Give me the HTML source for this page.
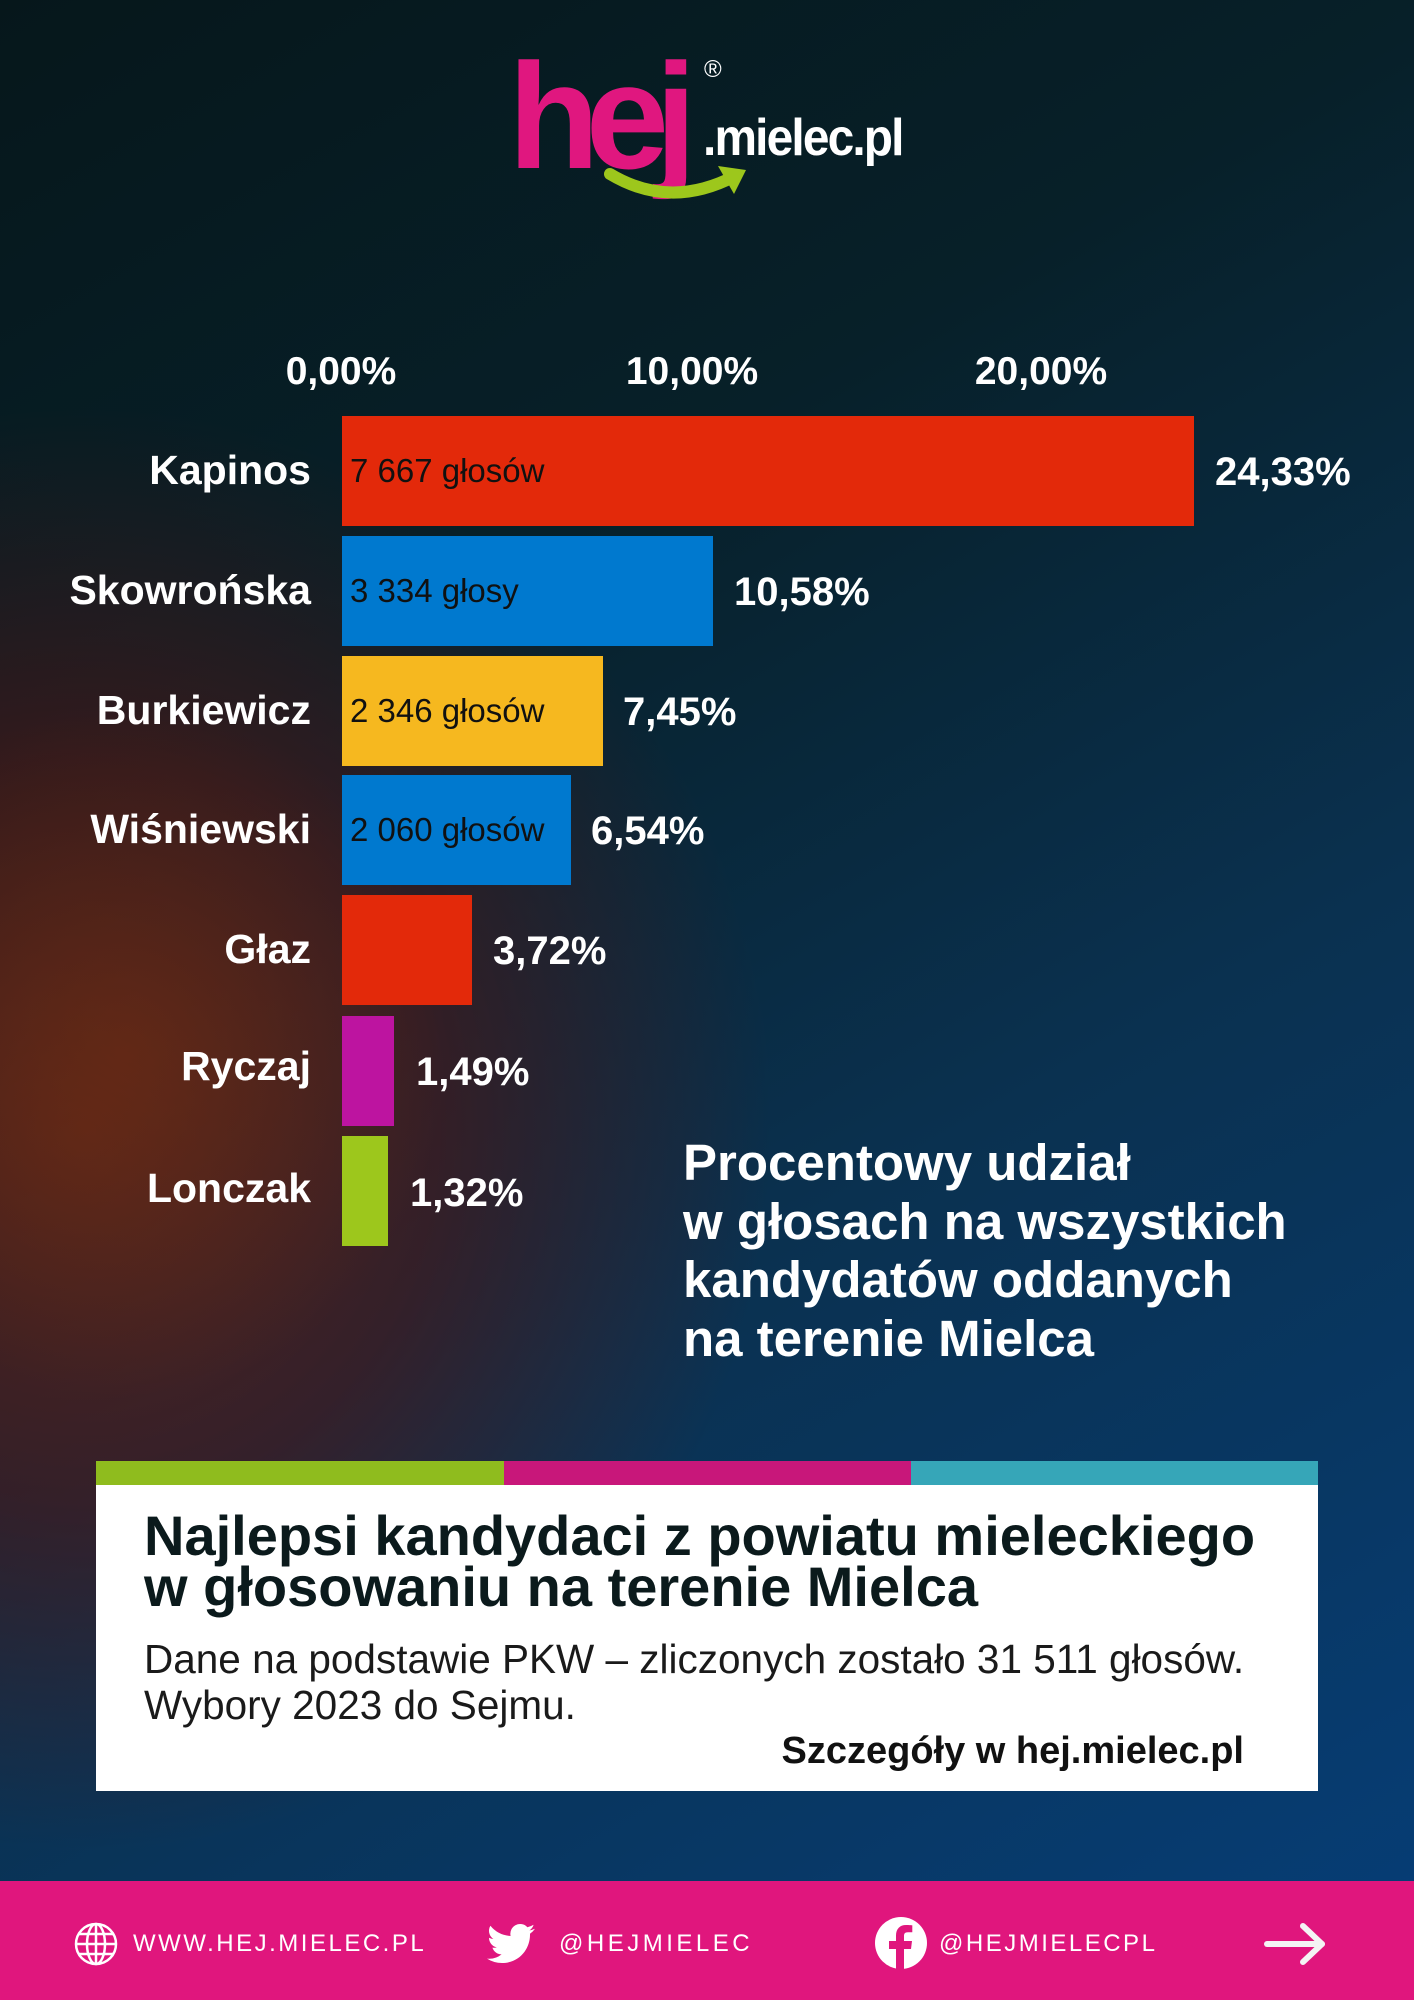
<!DOCTYPE html>
<html><head><meta charset="utf-8"><style>
*{margin:0;padding:0;box-sizing:border-box}
body{width:1414px;height:2000px;position:relative;overflow:hidden;font-family:"Liberation Sans",sans-serif;
background:linear-gradient(150deg,#06171b 0%,#072029 30%,#0a3150 60%,#063e78 100%);}
.bg1{position:absolute;left:-300px;top:380px;width:1100px;height:1500px;
background:radial-gradient(ellipse at 35% 50%,rgba(110,35,15,0.75) 0%,rgba(80,22,20,0.6) 35%,rgba(60,20,30,0.0) 68%);}
.bg2{position:absolute;left:-200px;top:700px;width:650px;height:700px;
background:radial-gradient(ellipse at 50% 50%,rgba(130,50,15,0.4) 0%,rgba(120,35,15,0) 70%);}
.a{position:absolute;white-space:nowrap}
.ax{top:350px;color:#fff;font-weight:bold;font-size:39px;transform:translateX(-50%)}
.nm{right:1103px;color:#fff;font-weight:bold;font-size:41px;line-height:46px}
.bar{position:absolute;left:342px;height:110px}
.in{position:absolute;left:8px;top:0;line-height:110px;font-size:33px;color:#111}
.vl{color:#fff;font-weight:bold;font-size:40px;line-height:46px}
.side{left:683px;top:1134px;color:#fff;font-weight:bold;font-size:51px;line-height:58.5px}
.box{position:absolute;left:96px;top:1485px;width:1222px;height:306px;background:#fff}
.ft{position:absolute;left:0;top:1881px;width:1414px;height:119px;background:#e0167d}
.fx{top:1930px;color:#fff;font-size:24px;letter-spacing:2.5px;line-height:28px}
</style></head><body>
<div class="bg1"></div><div class="bg2"></div>

<!-- logo -->
<div class="a" style="left:508px;top:36px;font-size:150px;font-weight:bold;color:#e0177f;letter-spacing:-14px;line-height:160px">hej</div>
<div class="a" style="left:703px;top:108px;font-size:52px;font-weight:bold;color:#fff;line-height:60px;letter-spacing:-2px;transform:scaleX(0.92);transform-origin:left">.mielec.pl</div>
<div class="a" style="left:704px;top:56px;font-size:24px;color:#fff">®</div>
<svg class="a" style="left:600px;top:160px" width="160" height="50" viewBox="0 0 160 50">
<path d="M10 14 Q70 50 135 16" stroke="#9dc71c" stroke-width="12" fill="none" stroke-linecap="round"/>
<path d="M118 6 L146 10 L134 34 Z" fill="#9dc71c"/>
</svg>

<!-- axis -->
<div class="a ax" style="left:341px">0,00%</div>
<div class="a ax" style="left:692px">10,00%</div>
<div class="a ax" style="left:1041px">20,00%</div>

<!-- bars -->
<div class="bar" style="top:416px;width:852px;background:#e3290a"><span class="in">7 667 głosów</span></div>
<div class="bar" style="top:536px;width:371px;background:#0079cf"><span class="in">3 334 głosy</span></div>
<div class="bar" style="top:656px;width:261px;background:#f6b81f"><span class="in">2 346 głosów</span></div>
<div class="bar" style="top:775px;width:229px;background:#0079cf"><span class="in">2 060 głosów</span></div>
<div class="bar" style="top:895px;width:130px;background:#e3290a"></div>
<div class="bar" style="top:1016px;width:52px;background:#bd14a0"></div>
<div class="bar" style="top:1136px;width:46px;background:#9dc71c"></div>

<div class="a nm" style="top:447px">Kapinos</div>
<div class="a nm" style="top:567px">Skowrońska</div>
<div class="a nm" style="top:687px">Burkiewicz</div>
<div class="a nm" style="top:806px">Wiśniewski</div>
<div class="a nm" style="top:926px">Głaz</div>
<div class="a nm" style="top:1043px">Ryczaj</div>
<div class="a nm" style="top:1165px">Lonczak</div>

<div class="a vl" style="left:1215px;top:449px">24,33%</div>
<div class="a vl" style="left:734px;top:569px">10,58%</div>
<div class="a vl" style="left:623px;top:689px">7,45%</div>
<div class="a vl" style="left:591px;top:808px">6,54%</div>
<div class="a vl" style="left:493px;top:928px">3,72%</div>
<div class="a vl" style="left:416px;top:1049px">1,49%</div>
<div class="a vl" style="left:410px;top:1170px">1,32%</div>

<div class="a side">Procentowy udział<br>w głosach na wszystkich<br>kandydatów oddanych<br>na terenie Mielca</div>

<!-- box -->
<div class="a" style="left:96px;top:1461px;width:408px;height:24px;background:#8fbc1e"></div>
<div class="a" style="left:504px;top:1461px;width:407px;height:24px;background:#c8177a"></div>
<div class="a" style="left:911px;top:1461px;width:407px;height:24px;background:#36a6b8"></div>
<div class="box"></div>
<div class="a" style="left:144px;top:1510px;font-size:56px;font-weight:bold;color:#0b1a1c;line-height:51px">Najlepsi kandydaci z powiatu mieleckiego<br>w głosowaniu na terenie Mielca</div>
<div class="a" style="left:144px;top:1636px;font-size:40.5px;color:#1a1a1a;line-height:46px">Dane na podstawie PKW – zliczonych zostało 31 511 głosów.<br>Wybory 2023 do Sejmu.</div>
<div class="a" style="right:170px;top:1730px;font-size:38px;font-weight:bold;color:#111;line-height:42px">Szczegóły w hej.mielec.pl</div>

<!-- footer -->
<div class="ft"></div>
<svg class="a" style="left:74px;top:1922px" width="44" height="44" viewBox="0 0 44 44" fill="none" stroke="#fff" stroke-width="2.5">
<circle cx="22" cy="22" r="20"/><ellipse cx="22" cy="22" rx="9" ry="20"/><line x1="22" y1="2" x2="22" y2="42"/><line x1="2" y1="22" x2="42" y2="22"/><line x1="5" y1="12" x2="39" y2="12"/><line x1="5" y1="32" x2="39" y2="32"/></svg>
<div class="a fx" style="left:133px">WWW.HEJ.MIELEC.PL</div>
<svg class="a" style="left:487px;top:1923px" width="48" height="42" viewBox="0 0 24 20"><path fill="#fff" d="M24 2.4a9.8 9.8 0 0 1-2.8.8A4.9 4.9 0 0 0 23.3.4a9.8 9.8 0 0 1-3.1 1.2A4.9 4.9 0 0 0 11.8 6 14 14 0 0 1 1.7.9a4.9 4.9 0 0 0 1.5 6.6A4.9 4.9 0 0 1 1 6.9a4.9 4.9 0 0 0 3.9 4.8 4.9 4.9 0 0 1-2.2.1 4.9 4.9 0 0 0 4.6 3.4A9.9 9.9 0 0 1 0 17.3 14 14 0 0 0 7.5 19.5c9.1 0 14-7.5 14-14v-.6A10 10 0 0 0 24 2.4z"/></svg>
<div class="a fx" style="left:559px;letter-spacing:3.5px">@HEJMIELEC</div>
<svg class="a" style="left:875px;top:1917px" width="52" height="52" viewBox="0 0 52 52"><circle cx="26" cy="26" r="26" fill="#fff"/><path d="M29 52V32h7l1-8h-8v-5c0-2.3.7-3.8 4-3.8h4.3V8.3c-.8-.1-3.3-.3-6.2-.3-6.1 0-10.1 3.7-10.1 10.5V24h-7v8h7v20z" fill="#e0167d"/></svg>
<div class="a fx" style="left:939px">@HEJMIELECPL</div>
<svg class="a" style="left:1263px;top:1922px" width="64" height="44" viewBox="0 0 64 44" fill="none" stroke="#f4f4f4" stroke-width="6" stroke-linecap="round" stroke-linejoin="round"><line x1="4" y1="22" x2="59" y2="22"/><polyline points="40,4 59,22 40,40"/></svg>
</body></html>
